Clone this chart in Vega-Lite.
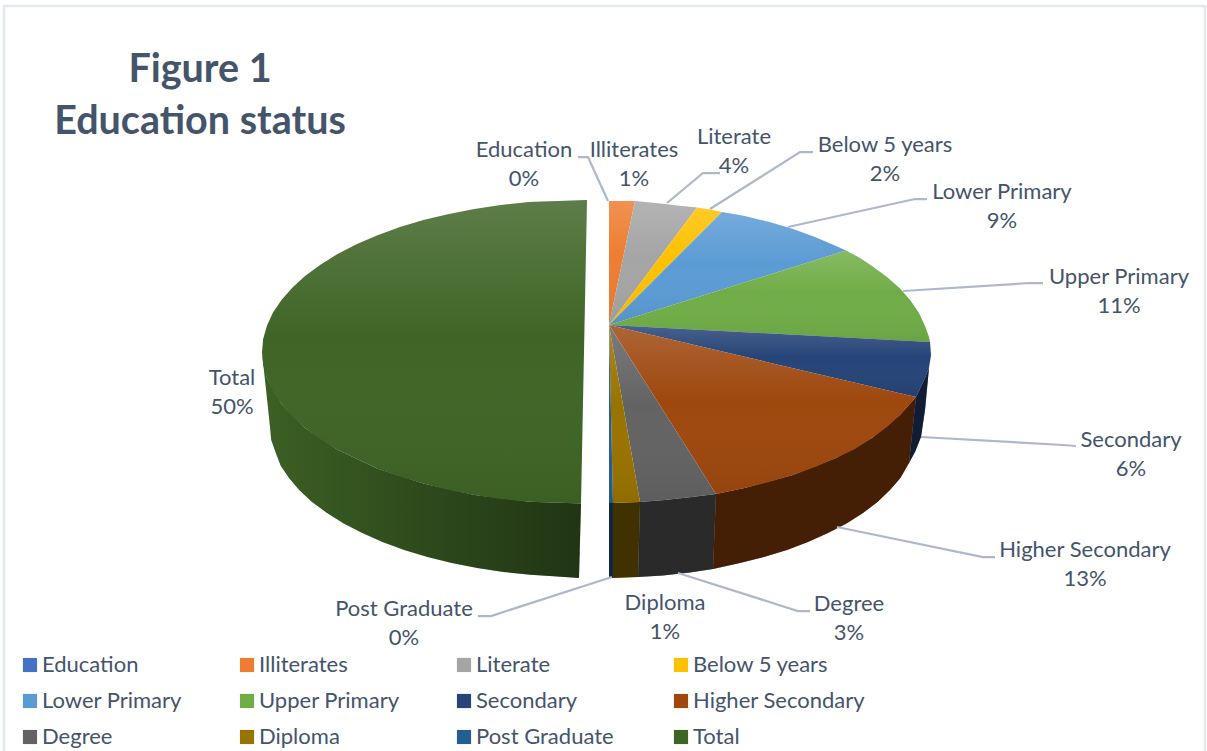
{
"$schema":"https://vega.github.io/schema/vega-lite/v6.json",
"autosize":{"type":"fit","contains":"padding"},
"width":1207,"height":751,"padding":0,
"background":"white",
"view":{"stroke":null},
"title":{"text":["Figure 1","Education status"],"font":"Lato","fontSize":39.5,"fontWeight":"bold","color":"#44546a","lineHeight":52,"anchor":"start","align":"center","baseline":"bottom","dx":200,"dy":181,"offset":0},
"datasets":{
"frame":[{"x":4,"y":751,"i":1},{"x":4,"y":6,"i":2},{"x":1205,"y":6,"i":3},{"x":1205,"y":751,"i":4}],
"labels":[
{"name":"Education","pct":0,"label":"Education\n0%","x":524,"y":150},
{"name":"Illiterates","pct":1,"label":"Illiterates\n1%","x":634,"y":150},
{"name":"Literate","pct":4,"label":"Literate\n4%","x":734,"y":137},
{"name":"Below 5 years","pct":2,"label":"Below 5 years\n2%","x":885,"y":145},
{"name":"Lower Primary","pct":9,"label":"Lower Primary\n9%","x":1002,"y":192},
{"name":"Upper Primary","pct":11,"label":"Upper Primary\n11%","x":1119,"y":277},
{"name":"Secondary","pct":6,"label":"Secondary\n6%","x":1131,"y":440},
{"name":"Higher Secondary","pct":13,"label":"Higher Secondary\n13%","x":1085,"y":550},
{"name":"Degree","pct":3,"label":"Degree\n3%","x":849,"y":604},
{"name":"Diploma","pct":1,"label":"Diploma\n1%","x":665,"y":603},
{"name":"Post Graduate","pct":0,"label":"Post Graduate\n0%","x":404,"y":609},
{"name":"Total","pct":50,"label":"Total\n50%","x":232,"y":378}
],
"leaders":[
{"name":"Education","i":1,"x":578,"y":157},{"name":"Education","i":2,"x":588,"y":157},{"name":"Education","i":3,"x":608,"y":201},
{"name":"Literate","i":1,"x":720,"y":173},{"name":"Literate","i":2,"x":703,"y":173},{"name":"Literate","i":3,"x":667,"y":203},
{"name":"Below 5 years","i":1,"x":813,"y":152},{"name":"Below 5 years","i":2,"x":800,"y":152},{"name":"Below 5 years","i":3,"x":710,"y":209},
{"name":"Lower Primary","i":1,"x":927,"y":199},{"name":"Lower Primary","i":2,"x":915,"y":199},{"name":"Lower Primary","i":3,"x":788,"y":227},
{"name":"Upper Primary","i":1,"x":1043,"y":283},{"name":"Upper Primary","i":2,"x":1030,"y":283},{"name":"Upper Primary","i":3,"x":903,"y":291},
{"name":"Secondary","i":1,"x":1076,"y":446},{"name":"Secondary","i":2,"x":1063,"y":445},{"name":"Secondary","i":3,"x":921,"y":437},
{"name":"Higher Secondary","i":1,"x":995,"y":557},{"name":"Higher Secondary","i":2,"x":983,"y":557},{"name":"Higher Secondary","i":3,"x":837,"y":527},
{"name":"Degree","i":1,"x":810,"y":611},{"name":"Degree","i":2,"x":798,"y":611},{"name":"Degree","i":3,"x":678,"y":573},
{"name":"Post Graduate","i":1,"x":478,"y":616},{"name":"Post Graduate","i":2,"x":491,"y":616},{"name":"Post Graduate","i":3,"x":612,"y":577}
],
"top":[
{"name":"Illiterates","i":1,"x":609,"y":325},{"name":"Illiterates","i":2,"x":609,"y":201},{"name":"Illiterates","i":3,"x":635,"y":201},
{"name":"Literate","i":1,"x":609,"y":325},{"name":"Literate","i":2,"x":635,"y":201},{"name":"Literate","i":3,"x":665,"y":204},{"name":"Literate","i":4,"x":681,"y":206},{"name":"Literate","i":5,"x":697,"y":207.5},
{"name":"Below 5 years","i":1,"x":609,"y":325},{"name":"Below 5 years","i":2,"x":697,"y":207.5},{"name":"Below 5 years","i":3,"x":710,"y":209.5},{"name":"Below 5 years","i":4,"x":722,"y":212},
{"name":"Lower Primary","i":1,"x":609,"y":325},{"name":"Lower Primary","i":2,"x":722,"y":212},{"name":"Lower Primary","i":3,"x":744.7,"y":216},{"name":"Lower Primary","i":4,"x":769.5,"y":222},{"name":"Lower Primary","i":5,"x":793,"y":229},{"name":"Lower Primary","i":6,"x":815,"y":237},{"name":"Lower Primary","i":7,"x":836,"y":246},{"name":"Lower Primary","i":8,"x":846,"y":250.5},
{"name":"Upper Primary","i":1,"x":609,"y":325},{"name":"Upper Primary","i":2,"x":846,"y":250.5},{"name":"Upper Primary","i":3,"x":860,"y":258},{"name":"Upper Primary","i":4,"x":872,"y":266},{"name":"Upper Primary","i":5,"x":887,"y":277},{"name":"Upper Primary","i":6,"x":900,"y":288.6},{"name":"Upper Primary","i":7,"x":910.7,"y":300.7},{"name":"Upper Primary","i":8,"x":919,"y":313},{"name":"Upper Primary","i":9,"x":925,"y":326},{"name":"Upper Primary","i":10,"x":929,"y":337},{"name":"Upper Primary","i":11,"x":930,"y":342},
{"name":"Secondary","i":1,"x":609,"y":325},{"name":"Secondary","i":2,"x":930,"y":342},{"name":"Secondary","i":3,"x":931,"y":355},{"name":"Secondary","i":4,"x":929,"y":368},{"name":"Secondary","i":5,"x":925,"y":378},{"name":"Secondary","i":6,"x":919,"y":391},{"name":"Secondary","i":7,"x":916,"y":397},
{"name":"Higher Secondary","i":1,"x":609,"y":325},{"name":"Higher Secondary","i":2,"x":916,"y":397},{"name":"Higher Secondary","i":3,"x":900,"y":415},{"name":"Higher Secondary","i":4,"x":887,"y":427},{"name":"Higher Secondary","i":5,"x":872,"y":438},{"name":"Higher Secondary","i":6,"x":855,"y":449},{"name":"Higher Secondary","i":7,"x":836,"y":458},{"name":"Higher Secondary","i":8,"x":815,"y":467},{"name":"Higher Secondary","i":9,"x":793,"y":475},{"name":"Higher Secondary","i":10,"x":769,"y":482},{"name":"Higher Secondary","i":11,"x":744.7,"y":488},{"name":"Higher Secondary","i":12,"x":716,"y":494},
{"name":"Degree","i":1,"x":609,"y":325},{"name":"Degree","i":2,"x":716,"y":494},{"name":"Degree","i":3,"x":692,"y":497},{"name":"Degree","i":4,"x":665,"y":500},{"name":"Degree","i":5,"x":640,"y":502},
{"name":"Diploma","i":1,"x":609,"y":325},{"name":"Diploma","i":2,"x":640,"y":502},{"name":"Diploma","i":3,"x":613,"y":503},
{"name":"Post Graduate","i":1,"x":609,"y":325},{"name":"Post Graduate","i":2,"x":613,"y":503},{"name":"Post Graduate","i":3,"x":609,"y":503},
{"name":"Total","i":1,"x":587,"y":200},{"name":"Total","i":2,"x":529,"y":202},{"name":"Total","i":3,"x":501,"y":205},{"name":"Total","i":4,"x":474.5,"y":209},{"name":"Total","i":5,"x":449,"y":214},{"name":"Total","i":6,"x":423.5,"y":220},{"name":"Total","i":7,"x":400,"y":227},{"name":"Total","i":8,"x":377,"y":235.6},{"name":"Total","i":9,"x":357,"y":244},{"name":"Total","i":10,"x":337.6,"y":254},{"name":"Total","i":11,"x":320.4,"y":264.8},{"name":"Total","i":12,"x":305,"y":276},{"name":"Total","i":13,"x":292.3,"y":287.7},{"name":"Total","i":14,"x":281.5,"y":300},{"name":"Total","i":15,"x":273,"y":312.6},{"name":"Total","i":16,"x":267,"y":325.6},{"name":"Total","i":17,"x":263.2,"y":338.8},{"name":"Total","i":18,"x":262,"y":352},{"name":"Total","i":19,"x":263.2,"y":365.2},{"name":"Total","i":20,"x":267,"y":378.4},{"name":"Total","i":21,"x":273,"y":391.4},{"name":"Total","i":22,"x":281.5,"y":404},{"name":"Total","i":23,"x":292.3,"y":416.2},{"name":"Total","i":24,"x":305,"y":428},{"name":"Total","i":25,"x":320.4,"y":439.2},{"name":"Total","i":26,"x":337.6,"y":449.7},{"name":"Total","i":27,"x":357,"y":459},{"name":"Total","i":28,"x":377,"y":468.4},{"name":"Total","i":29,"x":400,"y":476.5},{"name":"Total","i":30,"x":423.5,"y":483.6},{"name":"Total","i":31,"x":449,"y":490},{"name":"Total","i":32,"x":474.5,"y":495},{"name":"Total","i":33,"x":501,"y":499},{"name":"Total","i":34,"x":529,"y":501.7},{"name":"Total","i":35,"x":581,"y":503.5}
],
"wall":[
{"name":"Total","i":1,"x":262,"y":352},{"name":"Total","i":2,"x":267,"y":378.4},{"name":"Total","i":3,"x":281.5,"y":404},{"name":"Total","i":4,"x":305,"y":428},{"name":"Total","i":5,"x":337.6,"y":449.7},{"name":"Total","i":6,"x":377,"y":468.4},{"name":"Total","i":7,"x":423.5,"y":483.6},{"name":"Total","i":8,"x":474.5,"y":495},{"name":"Total","i":9,"x":529,"y":501.7},{"name":"Total","i":10,"x":581,"y":503.5},{"name":"Total","i":11,"x":579,"y":578},{"name":"Total","i":12,"x":557.6,"y":576.4},{"name":"Total","i":13,"x":530.3,"y":574.7},{"name":"Total","i":14,"x":503.4,"y":571.9},{"name":"Total","i":15,"x":477.3,"y":568},{"name":"Total","i":16,"x":451.8,"y":563},{"name":"Total","i":17,"x":427.5,"y":557},{"name":"Total","i":18,"x":404.2,"y":550},{"name":"Total","i":19,"x":382.5,"y":542},{"name":"Total","i":20,"x":362.3,"y":533},{"name":"Total","i":21,"x":343.7,"y":523.4},{"name":"Total","i":22,"x":327,"y":513},{"name":"Total","i":23,"x":312,"y":502},{"name":"Total","i":24,"x":299.6,"y":490.4},{"name":"Total","i":25,"x":289,"y":478},{"name":"Total","i":26,"x":280.7,"y":465.8},{"name":"Total","i":27,"x":275.8,"y":453},{"name":"Total","i":28,"x":271.2,"y":440},{"name":"Total","i":29,"x":270,"y":427},
{"name":"Post Graduate","i":1,"x":609,"y":503},{"name":"Post Graduate","i":2,"x":613,"y":503},{"name":"Post Graduate","i":3,"x":613,"y":578},{"name":"Post Graduate","i":4,"x":609,"y":578},
{"name":"Diploma","i":1,"x":613,"y":503},{"name":"Diploma","i":2,"x":640,"y":502},{"name":"Diploma","i":3,"x":638,"y":577},{"name":"Diploma","i":4,"x":613,"y":578},
{"name":"Degree","i":1,"x":640,"y":502},{"name":"Degree","i":2,"x":665,"y":500},{"name":"Degree","i":3,"x":692,"y":497},{"name":"Degree","i":4,"x":716,"y":494},{"name":"Degree","i":5,"x":713,"y":569},{"name":"Degree","i":6,"x":690,"y":572.5},{"name":"Degree","i":7,"x":663,"y":575.5},{"name":"Degree","i":8,"x":638,"y":577},
{"name":"Higher Secondary","i":1,"x":716,"y":494},{"name":"Higher Secondary","i":2,"x":744.7,"y":488},{"name":"Higher Secondary","i":3,"x":793,"y":475},{"name":"Higher Secondary","i":4,"x":836,"y":458},{"name":"Higher Secondary","i":5,"x":872,"y":438},{"name":"Higher Secondary","i":6,"x":900,"y":415},{"name":"Higher Secondary","i":7,"x":916,"y":397},{"name":"Higher Secondary","i":8,"x":909,"y":463},{"name":"Higher Secondary","i":9,"x":900.4,"y":478},{"name":"Higher Secondary","i":10,"x":890,"y":490},{"name":"Higher Secondary","i":11,"x":877.5,"y":502},{"name":"Higher Secondary","i":12,"x":863,"y":513},{"name":"Higher Secondary","i":13,"x":846.5,"y":523.4},{"name":"Higher Secondary","i":14,"x":828,"y":533},{"name":"Higher Secondary","i":15,"x":808,"y":542},{"name":"Higher Secondary","i":16,"x":787,"y":550},{"name":"Higher Secondary","i":17,"x":764,"y":557},{"name":"Higher Secondary","i":18,"x":740,"y":563},{"name":"Higher Secondary","i":19,"x":713,"y":569},
{"name":"Secondary","i":1,"x":929,"y":368},{"name":"Secondary","i":2,"x":925,"y":378},{"name":"Secondary","i":3,"x":919,"y":391},{"name":"Secondary","i":4,"x":916,"y":397},{"name":"Secondary","i":5,"x":909,"y":463},{"name":"Secondary","i":6,"x":915,"y":452},{"name":"Secondary","i":7,"x":921,"y":437},{"name":"Secondary","i":8,"x":925,"y":410}
]
},
"encoding":{
"x":{"field":"x","type":"quantitative","axis":null,"scale":{"domain":[0,1207],"nice":false,"zero":false}},
"y":{"field":"y","type":"quantitative","axis":null,"scale":{"domain":[0,751],"nice":false,"zero":false,"reverse":true}}
},
"layer":[
{"data":{"name":"frame"},"mark":{"type":"line","stroke":"#e3e7f0","strokeWidth":2.5,"clip":true},"encoding":{"order":{"field":"i","type":"quantitative"}}},
{"data":{"name":"wall"},"mark":{"type":"line","stroke":null,"strokeWidth":0},
"encoding":{"order":{"field":"i","type":"quantitative"},
"fill":{"field":"name","type":"nominal","title":null,
"scale":{"domain":["Education","Illiterates","Literate","Below 5 years","Lower Primary","Upper Primary","Secondary","Higher Secondary","Degree","Diploma","Post Graduate","Total"],
"range":["#4472c4","#ed7d31","#a5a5a5","#ffc000","#5b9bd5","#70ad47","#264478","#9e480e","#636363","#997300","#255e91","#3f6526"]},
"legend":{"orient":"none","direction":"horizontal","legendX":19,"legendY":654,"columns":4,"gridAlign":"all","columnPadding":21,"rowPadding":14,"symbolType":"square","symbolSize":200,"symbolStrokeWidth":0,"labelFont":"Lato","labelFontSize":22,"labelColor":"#44546a","labelOffset":1,"labelLimit":300,"title":null}}}},
{"data":{"name":"wall"},"transform":[{"filter":"datum.name !== 'Total'"}],"mark":{"type":"line","fill":"#000000","fillOpacity":0.57,"stroke":null,"strokeWidth":0},
"encoding":{"order":{"field":"i","type":"quantitative"},"detail":{"field":"name","type":"nominal"}}},
{"data":{"name":"wall"},"transform":[{"filter":"datum.name === 'Total'"}],"mark":{"type":"line","stroke":null,"strokeWidth":0,"fill":{"gradient":"linear","x1":0,"y1":0,"x2":1,"y2":0,"stops":[{"offset":0,"color":"rgba(0,0,0,0.05)"},{"offset":1,"color":"rgba(0,0,0,0.48)"}]}},
"encoding":{"order":{"field":"i","type":"quantitative"},"detail":{"field":"name","type":"nominal"}}},
{"data":{"name":"top"},"mark":{"type":"line","stroke":null,"strokeWidth":0},
"encoding":{"order":{"field":"i","type":"quantitative"},
"fill":{"field":"name","type":"nominal","title":null}}},
{"data":{"name":"top"},"mark":{"type":"line","stroke":null,"strokeWidth":0,"fill":{"gradient":"linear","x1":0,"y1":0,"x2":0,"y2":1,"stops":[{"offset":0,"color":"rgba(255,255,255,0.16)"},{"offset":0.45,"color":"rgba(255,255,255,0)"},{"offset":1,"color":"rgba(0,0,0,0.06)"}]}},
"encoding":{"order":{"field":"i","type":"quantitative"},"detail":{"field":"name","type":"nominal"}}},
{"data":{"name":"leaders"},"mark":{"type":"line","stroke":"#adb9ca","strokeWidth":2.25},
"encoding":{"order":{"field":"i","type":"quantitative"},"detail":{"field":"name","type":"nominal"}}},
{"data":{"name":"labels"},"mark":{"type":"text","font":"Lato","fontSize":22,"color":"#44546a","align":"center","baseline":"middle","lineBreak":"\n","lineHeight":29},
"encoding":{"text":{"field":"label","type":"nominal"}}}
]
}
